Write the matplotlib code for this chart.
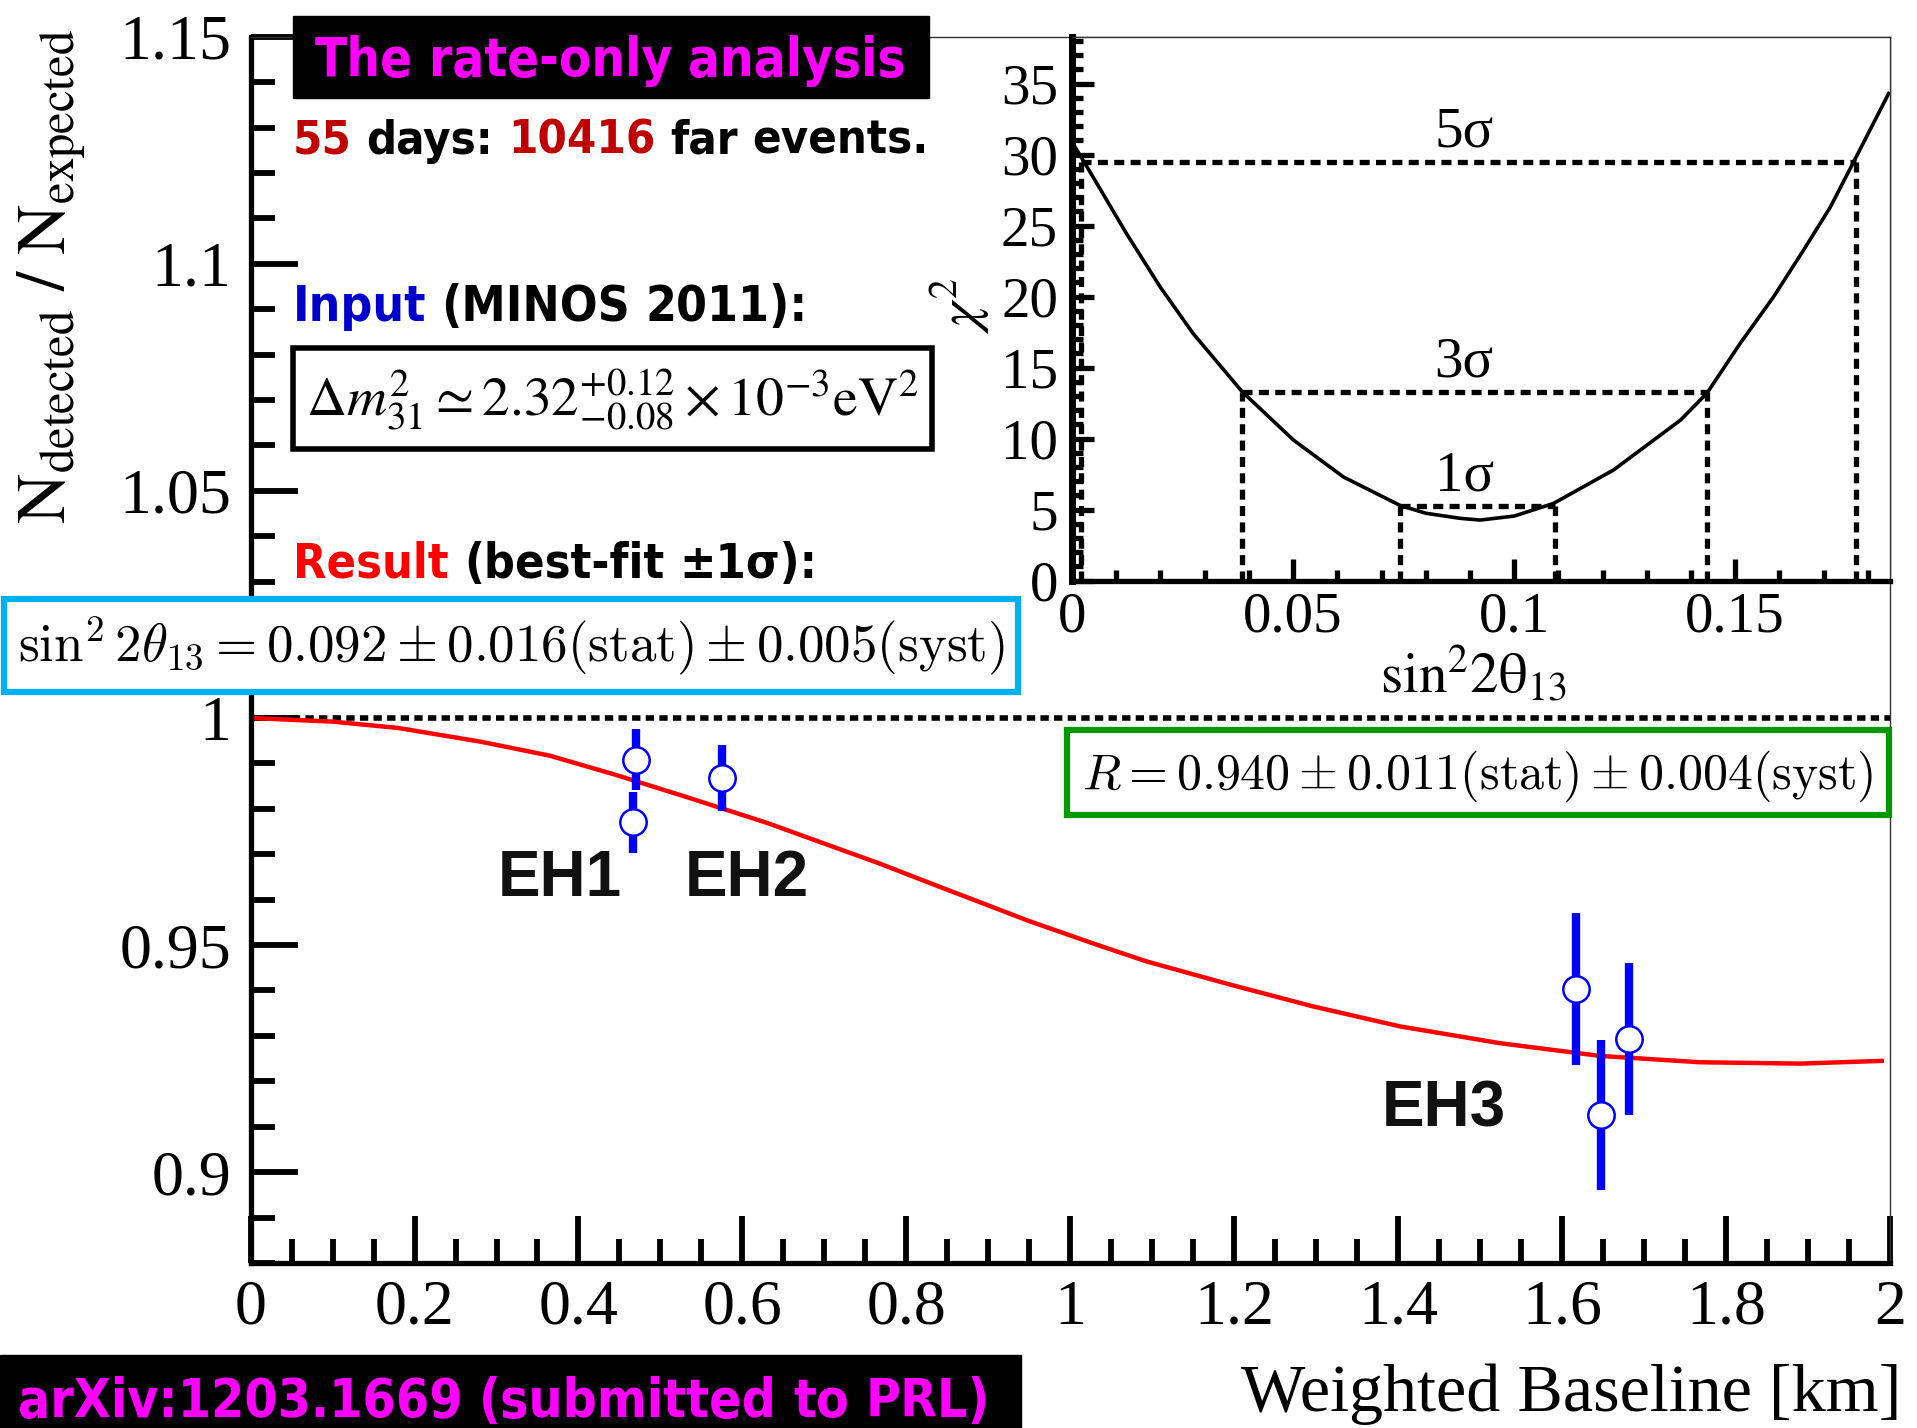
## Daya Bay rate-only result, redrawn ##
import matplotlib
matplotlib.use("Agg")
import matplotlib.pyplot as plt
import matplotlib.font_manager as fm
from matplotlib.patches import Rectangle
from matplotlib.ticker import MultipleLocator

## Data ##
# red prediction curve
base_km = [0, 0.1, 0.18, 0.28, 0.365, 0.445, 0.53, 0.63, 0.768, 0.841, 0.951,
           1.032, 1.093, 1.195, 1.296, 1.402, 1.524, 1.646, 1.768, 1.89, 1.99]
ratio_fit = [1.0, 0.9992, 0.9978, 0.9948, 0.9917, 0.9875, 0.9827, 0.9769,
             0.9679, 0.9628, 0.9552, 0.9501, 0.9464, 0.9413, 0.9365, 0.9321,
             0.9284, 0.9256, 0.9242, 0.9239, 0.9245]

# the six detectors
det_km = [0.470, 0.466, 0.575, 1.617, 1.647, 1.682]
det_ratio = [0.9908, 0.9770, 0.9868, 0.9404, 0.9125, 0.9293]
det_err = [0.0067, 0.0068, 0.0073, 0.0167, 0.0165, 0.0168]

# chi2 scan in the inset
s2t = [0.0, 0.0048, 0.0124, 0.0199, 0.0274, 0.0385, 0.0501, 0.0614, 0.0742,
       0.08, 0.0878, 0.0923, 0.1, 0.1089, 0.1225, 0.1376, 0.1436, 0.1511,
       0.1587, 0.1655, 0.1715, 0.1768, 0.1847]
chi2 = [30.9, 28.4, 24.4, 20.7, 17.4, 13.3, 9.9, 7.3, 5.3,
        4.75, 4.39, 4.27, 4.55, 5.44, 7.8, 11.3, 13.2, 16.7,
        20.0, 23.3, 26.3, 29.5, 34.3]

sig_names = ["1σ", "3σ", "5σ"]
sig_level = [5.25, 13.3, 29.5]
sig_lo = [0.0742, 0.0385, 0.002]
sig_hi = [0.1093, 0.1436, 0.1772]

y_ticks = [0.9, 0.95, 1.0, 1.05, 1.1, 1.15]
y_labels = ["0.9", "0.95", "1", "1.05", "1.1", "1.15"]
x_ticks = [0, 0.2, 0.4, 0.6, 0.8, 1.0, 1.2, 1.4, 1.6, 1.8, 2.0]
x_labels = ["0", "0.2", "0.4", "0.6", "0.8", "1", "1.2", "1.4", "1.6", "1.8", "2"]
ins_y_ticks = [0, 5, 10, 15, 20, 25, 30, 35]
ins_x_ticks = [0, 0.05, 0.1, 0.15]
ins_x_labels = ["0", "0.05", "0.1", "0.15"]

## Fonts ##
plt.rcParams["font.family"] = "Liberation Serif"
plt.rcParams["mathtext.fontset"] = "stix"

# a narrow bold sans for the slide text (Tahoma-like)
cond = [f.fname for f in fm.fontManager.ttflist
        if "DejaVuSansCondensed-Bold." in f.fname]
if cond:
    tahoma = fm.FontProperties(fname=cond[0])
else:
    tahoma = fm.FontProperties(family="Roboto", weight="bold")

W, H = 1917, 1428
fig = plt.figure(figsize=(W / 100, H / 100), dpi=100)
renderer = fig.canvas.get_renderer()

def fx(x):
    return x / W

def fy(y):
    return 1 - y / H

def fit(t, w_px):
    w = t.get_window_extent(renderer).width
    t.set_fontsize(t.get_fontsize() * w_px / w)

def words(x_px, y_px, pieces, w_px):
    # coloured words on one baseline, scaled to a total width
    ws = []
    for s, c in pieces:
        t = fig.text(0, 0, s, fontproperties=tahoma, fontsize=40)
        ws.append(t.get_window_extent(renderer).width)
        t.remove()
    a = fig.text(0, 0, "a a", fontproperties=tahoma, fontsize=40)
    b = fig.text(0, 0, "aa", fontproperties=tahoma, fontsize=40)
    gap = a.get_window_extent(renderer).width - b.get_window_extent(renderer).width
    a.remove()
    b.remove()
    k = w_px / (sum(ws) + gap * (len(ws) - 1))
    x = x_px
    for (s, c), w in zip(pieces, ws):
        fig.text(fx(x), fy(y_px), s, color=c, fontproperties=tahoma,
                 fontsize=40 * k, va="baseline")
        x += (w + gap) * k

def box(x0, y0, x1, y1, ec, fc="white", lw=4.0):
    fig.add_artist(Rectangle((fx(x0), fy(y1)), fx(x1 - x0), (y1 - y0) / H,
                             transform=fig.transFigure, fc=fc, ec=ec, lw=lw,
                             zorder=2))

## Main plot ##
ax = fig.add_axes([fx(250.6), fy(1263), fx(1890 - 250.6), (1263 - 36.7) / H])
ax.plot(base_km, ratio_fit, color="red", lw=3.2, zorder=2)
ax.axhline(1.0, color="black", lw=4.0, ls=(0, (1.5, 0.95)), zorder=1)
ax.errorbar(det_km, det_ratio, yerr=det_err, fmt="o", color="blue",
            mfc="white", mec="blue", ms=19, mew=1.8, elinewidth=6,
            capsize=0, zorder=3)
ax.set_xlim(0, 2)
ax.set_ylim(0.88, 1.15)
ax.set_xticks(x_ticks)
ax.set_xticklabels(x_labels)
ax.set_yticks(y_ticks)
ax.set_yticklabels(y_labels)
ax.xaxis.set_minor_locator(MultipleLocator(0.05))
ax.yaxis.set_minor_locator(MultipleLocator(0.01))
ax.tick_params(which="both", direction="in", width=4.2, labelsize=46)
ax.tick_params(which="major", length=34)
ax.tick_params(which="minor", length=17)
ax.tick_params(axis="x", pad=12)
ax.tick_params(axis="y", pad=14)
for side in ["left", "bottom"]:
    ax.spines[side].set_linewidth(3.8)
for side in ["top", "right"]:
    ax.spines[side].set_linewidth(1.0)
    ax.spines[side].set_color("#333333")

for name, x, y in [("EH1", 0.3013, 0.9609), ("EH2", 0.5296, 0.9609),
                   ("EH3", 1.3797, 0.910)]:
    ax.text(x, y, name, family="Liberation Sans", weight="bold",
            fontsize=46, color="#111111", va="baseline", ha="left")

fig.text(0.027, 0.8064, r"$\mathrm{N}_{\mathrm{detected}}\ /\ \mathrm{N}_{\mathrm{expected}}$",
         rotation=90, ha="center", va="center", fontsize=50)
t = fig.text(fx(1901), fy(1394), "Weighted Baseline [km]", ha="right",
             va="center", fontsize=48)
fit(t, 660)

## Inset chi2 ##
ins = fig.add_axes([fx(1072), fy(580.7), fx(1890 - 1072), (580.7 - 36.7) / H])
ins.plot(s2t, chi2, color="black", lw=2.6)
dash = (0, (1.9, 1.2))
for name, lev, lo, hi in zip(sig_names, sig_level, sig_lo, sig_hi):
    ins.plot([lo, hi], [lev, lev], color="black", lw=3.8, ls=dash)
    ins.plot([lo, lo], [0, lev], color="black", lw=3.8, ls=dash)
    ins.plot([hi, hi], [0, lev], color="black", lw=3.8, ls=dash)
    ins.text(0.0887, lev + 1.1, name, ha="center", va="baseline", fontsize=41)
ins.set_xlim(0, 0.185)
ins.set_ylim(0, 38.3)
ins.set_xticks(ins_x_ticks)
ins.set_xticklabels(ins_x_labels)
ins.set_yticks(ins_y_ticks)
ins.xaxis.set_minor_locator(MultipleLocator(0.01))
ins.yaxis.set_minor_locator(MultipleLocator(1))
ins.tick_params(which="both", direction="in", width=3.8, labelsize=41)
ins.tick_params(which="major", length=16)
ins.tick_params(which="minor", length=8)
ins.tick_params(axis="x", pad=8)
ins.tick_params(axis="y", pad=10)
ins.spines["left"].set_linewidth(5)
ins.spines["bottom"].set_linewidth(3.8)
for side in ["top", "right"]:
    ins.spines[side].set_linewidth(1.0)
    ins.spines[side].set_color("#333333")
fig.text(fx(960), fy(306), r"$\chi^2$", rotation=90, ha="center",
         va="center", fontsize=41)
fig.text(fx(1473), fy(693), r"$\mathrm{sin^{2}2θ_{13}}$", ha="center",
         va="baseline", fontsize=41)

## Text blocks ##
box(293, 16, 929, 98, ec="black", fc="black", lw=1)
words(315, 76, [("The", "#ff00ff"), ("rate-only", "#ff00ff"),
                ("analysis", "#ff00ff")], 590)
words(293, 154, [("55", "#c00000"), ("days:", "black"), ("10416", "#c00000"),
                 ("far", "black"), ("events.", "black")], 636)
words(293, 321, [("Input", "#0000cc"), ("(MINOS", "black"),
                 ("2011):", "black")], 514)
box(293, 348, 932, 449, ec="black", lw=4.0)
t = fig.text(fx(306), fy(415), r"$\Delta m^2_{31} \simeq 2.32^{+0.12}_{-0.08}\times10^{-3}\mathrm{eV}^2$",
             va="baseline", fontsize=40)
fit(t, 612)
words(293, 578, [("Result", "#ff0000"), ("(best-fit", "black"),
                 ("±1σ):", "black")], 524)

box(4, 599, 1018, 692, ec="#00b0f0", lw=4.5)
t = fig.text(fx(18), fy(661), r"$\sin^2 2\theta_{13} = 0.092 \pm 0.016(\mathrm{stat}) \pm 0.005(\mathrm{syst})$",
             va="baseline", fontsize=40, math_fontfamily="cm")
fit(t, 987)

box(1067, 730, 1889, 815, ec="#009900", lw=4.5)
t = fig.text(fx(1082), fy(789), r"$R = 0.940 \pm 0.011(\mathrm{stat}) \pm 0.004(\mathrm{syst})$",
             va="baseline", fontsize=40, math_fontfamily="cm")
fit(t, 791)

box(0, 1355, 1021, 1440, ec="black", fc="black", lw=1)
words(18, 1417, [("arXiv:1203.1669", "#ff00ff"), ("(submitted", "#ff00ff"),
                 ("to", "#ff00ff"), ("PRL)", "#ff00ff")], 972)

fig.savefig("out.png", dpi=100)
